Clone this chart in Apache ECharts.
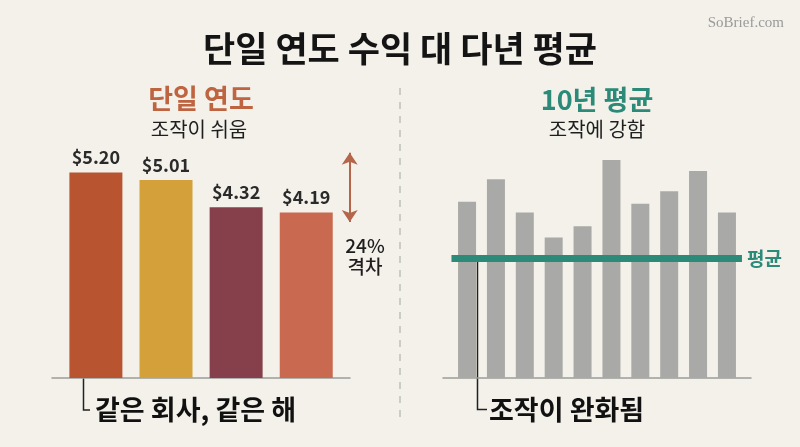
<!DOCTYPE html>
<html>
<head>
<meta charset="utf-8">
<script src="https://cdn.jsdelivr.net/npm/echarts@6/dist/echarts.min.js"></script>
<style>
  html, body { margin: 0; padding: 0; background: #f3f1ea; }
  #chart { width: 800px; height: 447px; }
</style>
</head>
<body>
<div id="chart"></div>
<script>
// 단일 연도 EPS (4개 회계 처리 방식)
var singleYearValues = [5.20, 5.01, 4.32, 4.19];
// 10년 평균 - 연도별 막대
var tenYearValues = [4.46, 5.03, 4.19, 3.56, 3.84, 5.52, 4.41, 4.73, 5.24, 4.19];
var averageValue = 3.02;
// 격차 화살표 범위
var gapRange = [5.70, 3.95];
var gapLabel = ['24%', '격차'];

var font = 'Noto Sans CJK KR';
var singleColors = ['#b85430', '#d3a03a', '#85404c', '#c96a50'];
var teal = '#2b8a78';

var chart = echarts.init(document.getElementById('chart'));

var hiddenAxis = {
  show: true,
  axisLabel: { show: false },
  axisTick: { show: false },
  splitLine: { show: false }
};

var option = {
  backgroundColor: '#f3f1ea',
  animation: false,
  title: [
    {
      text: '단일 연도 수익 대 다년 평균',
      left: 'center',
      top: 26,
      textStyle: { fontFamily: font, fontSize: 35, fontWeight: 'bold', color: '#141414' }
    },
    {
      text: 'SoBrief.com',
      right: 11,
      top: 11,
      textStyle: { fontFamily: 'Liberation Serif', fontSize: 15, fontWeight: 'normal', color: '#9a9a9a' }
    }
  ],
  grid: [
    { left: 52, right: 450, top: 141, bottom: 69 },
    { left: 443, right: 49, top: 141, bottom: 69 }
  ],
  xAxis: [
    Object.assign({}, hiddenAxis, {
      type: 'value', gridIndex: 0, min: -0.626, max: 3.624,
      axisLine: { show: true, lineStyle: { color: '#9c9c9a', width: 1.5 } }
    }),
    Object.assign({}, hiddenAxis, {
      type: 'value', gridIndex: 1, min: -0.833, max: 9.833,
      axisLine: { show: true, lineStyle: { color: '#9c9c9a', width: 1.5 } }
    })
  ],
  yAxis: [
    { type: 'value', gridIndex: 0, min: 0, max: 6, show: false },
    { type: 'value', gridIndex: 1, min: 0, max: 6, show: false }
  ],
  series: [
    {
      type: 'bar',
      xAxisIndex: 0,
      yAxisIndex: 0,
      barWidth: 53,
      data: singleYearValues.map(function (v, i) {
        return { value: [i, v], itemStyle: { color: singleColors[i] } };
      }),
      label: {
        show: true,
        position: 'top',
        distance: 6,
        fontFamily: font,
        fontSize: 18,
        fontWeight: 'bold',
        color: '#2a2a2a',
        formatter: function (p) { return '$' + p.value[1].toFixed(2); }
      },
      markLine: {
        silent: true,
        symbol: ['arrow', 'arrow'],
        symbolSize: [12, 12],
        label: { show: false },
        lineStyle: { color: '#b5654a', width: 2, type: 'solid' },
        data: [[{ coord: [3.62, gapRange[0]] }, { coord: [3.62, gapRange[1]] }]]
      }
    },
    {
      type: 'bar',
      xAxisIndex: 1,
      yAxisIndex: 1,
      barWidth: 18,
      itemStyle: { color: '#a9a9a7' },
      data: tenYearValues.map(function (v, i) { return [i, v]; }),
      markLine: {
        silent: true,
        symbol: ['none', 'none'],
        lineStyle: { color: teal, width: 7, type: 'solid', opacity: 1 },
        label: {
          show: true,
          position: 'end',
          distance: 5,
          formatter: '평균',
          fontFamily: font,
          fontSize: 19,
          fontWeight: 'bold',
          color: teal
        },
        data: [[{ coord: [-0.54, averageValue] }, { coord: [9.52, averageValue] }]]
      }
    }
  ],
  graphic: [
    // 가운데 점선 구분선
    {
      type: 'line', silent: true,
      shape: { x1: 400, y1: 88, x2: 400, y2: 417 },
      style: { stroke: '#b3b3b0', lineWidth: 1.2, lineDash: [7, 7] }
    },
    {
      type: 'text', silent: true,
      style: { text: '단일 연도', x: 201, y: 99, textAlign: 'center', textVerticalAlign: 'middle',
        fontFamily: font, fontSize: 27, fontWeight: 'bold', fill: '#bf6440' }
    },
    {
      type: 'text', silent: true,
      style: { text: '조작이 쉬움', x: 199, y: 129, textAlign: 'center', textVerticalAlign: 'middle',
        fontFamily: font, fontSize: 20, fill: '#1e1e1e' }
    },
    {
      type: 'text', silent: true,
      style: { text: '10년 평균', x: 597, y: 100, textAlign: 'center', textVerticalAlign: 'middle',
        fontFamily: font, fontSize: 27, fontWeight: 'bold', fill: teal }
    },
    {
      type: 'text', silent: true,
      style: { text: '조작에 강함', x: 597, y: 129, textAlign: 'center', textVerticalAlign: 'middle',
        fontFamily: font, fontSize: 20, fill: '#1e1e1e' }
    },
    {
      type: 'text', silent: true,
      style: { text: gapLabel[0], x: 365, y: 246, textAlign: 'center', textVerticalAlign: 'middle',
        fontFamily: font, fontSize: 19, fontWeight: 500, fill: '#1e1e1e' }
    },
    {
      type: 'text', silent: true,
      style: { text: gapLabel[1], x: 365, y: 267, textAlign: 'center', textVerticalAlign: 'middle',
        fontFamily: font, fontSize: 19, fontWeight: 500, fill: '#1e1e1e' }
    },
    // 하단 설명선
    {
      type: 'polyline', silent: true,
      shape: { points: [[83.5, 378], [83.5, 410], [90, 410]] },
      style: { stroke: '#222', lineWidth: 1.5, fill: null }
    },
    {
      type: 'text', silent: true,
      style: { text: '같은 회사, 같은 해', x: 95, y: 410, textAlign: 'left', textVerticalAlign: 'middle',
        fontFamily: font, fontSize: 27, fontWeight: 'bold', fill: '#111' }
    },
    {
      type: 'polyline', silent: true,
      shape: { points: [[477.5, 262], [477.5, 409.5], [487, 409.5]] },
      style: { stroke: '#222', lineWidth: 1.5, fill: null }
    },
    {
      type: 'text', silent: true,
      style: { text: '조작이 완화됨', x: 489, y: 410, textAlign: 'left', textVerticalAlign: 'middle',
        fontFamily: font, fontSize: 27, fontWeight: 'bold', fill: '#111' }
    }
  ]
};

chart.setOption(option);
</script>
</body>
</html>
